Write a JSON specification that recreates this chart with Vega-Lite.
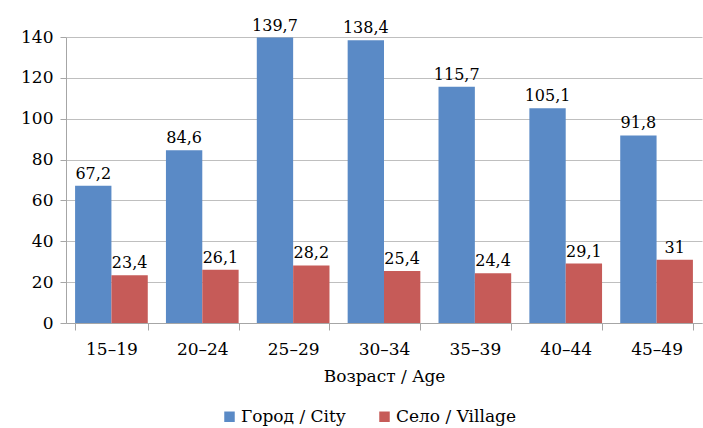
{
  "$schema": "https://vega.github.io/schema/vega-lite/v6.json",
  "width": 636,
  "height": 286,
  "autosize": {"type": "none"},
  "padding": {"left": 66, "top": 37, "right": 1, "bottom": 105},
  "background": "white",
  "config": {
    "font": "DejaVu Serif",
    "view": {"stroke": null},
    "locale": {"number": {"decimal": ",", "thousands": " ", "grouping": [3], "currency": ["", ""]}}
  },
  "data": {
    "values": [
      {"age": "15–19", "series": "Город / City", "value": 67.2},
      {"age": "15–19", "series": "Село / Village", "value": 23.4},
      {"age": "20–24", "series": "Город / City", "value": 84.6},
      {"age": "20–24", "series": "Село / Village", "value": 26.1},
      {"age": "25–29", "series": "Город / City", "value": 139.7},
      {"age": "25–29", "series": "Село / Village", "value": 28.2},
      {"age": "30–34", "series": "Город / City", "value": 138.4},
      {"age": "30–34", "series": "Село / Village", "value": 25.4},
      {"age": "35–39", "series": "Город / City", "value": 115.7},
      {"age": "35–39", "series": "Село / Village", "value": 24.4},
      {"age": "40–44", "series": "Город / City", "value": 105.1},
      {"age": "40–44", "series": "Село / Village", "value": 29.1},
      {"age": "45–49", "series": "Город / City", "value": 91.8},
      {"age": "45–49", "series": "Село / Village", "value": 31}
    ]
  },
  "encoding": {
    "x": {
      "field": "age", "type": "nominal", "sort": null,
      "scale": {"paddingInner": 0.2, "paddingOuter": 0.1},
      "axis": {
        "title": "Возраст / Age", "titleFontSize": 17, "titleFontWeight": "normal", "titleColor": "black", "titlePadding": 11,
        "labelAngle": 0, "labelFontSize": 17, "labelColor": "black", "labelPadding": 11,
        "tickSize": 7, "tickColor": "#A6A6A6", "domainColor": "#A6A6A6", "tickBand": "extent", "grid": false
      }
    },
    "xOffset": {"field": "series", "type": "nominal", "sort": null},
    "y": {
      "field": "value", "type": "quantitative",
      "scale": {"domain": [0, 140]},
      "axis": {
        "title": null, "values": [0, 20, 40, 60, 80, 100, 120, 140],
        "labelFontSize": 17, "labelColor": "black", "labelPadding": 7,
        "tickSize": 6, "tickColor": "#A6A6A6", "domainColor": "#A6A6A6",
        "grid": true, "gridColor": "#BFBFBF"
      }
    }
  },
  "layer": [
    {
      "mark": {"type": "bar"},
      "encoding": {
        "color": {
          "field": "series", "type": "nominal", "sort": null,
          "scale": {"range": ["#5A8AC6", "#C65B58"]},
          "legend": {
            "title": null, "orient": "none", "direction": "horizontal",
            "legendX": 155, "legendY": 371,
            "labelFontSize": 17, "labelColor": "black", "symbolType": "square", "symbolSize": 110,
            "symbolStrokeWidth": 0, "columnPadding": 30, "labelOffset": 3
          }
        }
      }
    },
    {
      "mark": {"type": "text", "baseline": "bottom", "dy": -4, "fontSize": 16, "color": "black"},
      "encoding": {
        "text": {"field": "value", "type": "quantitative", "format": ".1~f"}
      }
    }
  ]
}
